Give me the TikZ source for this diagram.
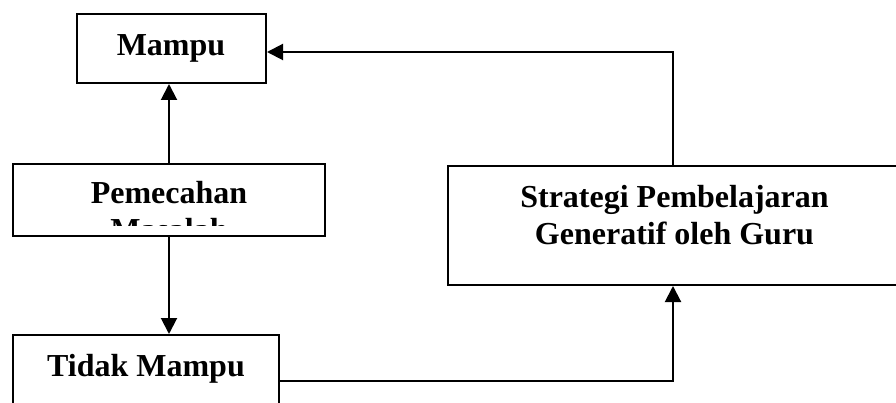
\documentclass[tikz,border=0pt]{standalone}
\usepackage{fontspec}
\setmainfont{Liberation Serif}
\usetikzlibrary{arrows.meta}

\begin{document}
\begin{tikzpicture}[x=1pt, y=-1pt,
    box/.style={draw, line width=2pt, inner sep=0},
    txt/.style={font=\fontsize{32pt}{37pt}\selectfont\bfseries, align=center, inner sep=0},
    arr/.style={line width=2pt, -{Triangle[width=16pt,length=16pt]}}]

    \clip (0,0) rectangle (896,403);

    % Boxes
    \node[box, minimum width=189pt, minimum height=69pt] (mampu) at (171.5, 48.5) {};
    \node[box, minimum width=312pt, minimum height=72pt] (pem) at (169, 200) {};
    \node[box, minimum width=266pt, minimum height=92pt] (tidak) at (146, 381) {};
    \node[box, minimum width=450pt, minimum height=119pt] (strat) at (673, 225.5) {};

    % Texts
    \node[txt] (mampu-t) at (171, 48) {Mampu};
    \begin{scope}
        \clip (13, 164) rectangle (325, 226);
        \node[txt] (pem-t) at (169, 211) {Pemecahan\\Masalah};
    \end{scope}
    \node[txt] (tidak-t) at (146, 368.5) {Tidak Mampu};
    \node[txt] (strat-t) at (674.5, 215) {Strategi Pembelajaran\\Generatif oleh Guru};

    % Arrows
    \draw[arr] (pem.north) -- (pem.north |- mampu.south);
    \draw[arr] (pem.south) -- (pem.south |- tidak.north);
    \draw[arr] (tidak.east) -| (strat.south);
    \draw[arr] (strat.north) |- ([yshift=-3.5pt]mampu.east);

\end{tikzpicture}
\end{document}
